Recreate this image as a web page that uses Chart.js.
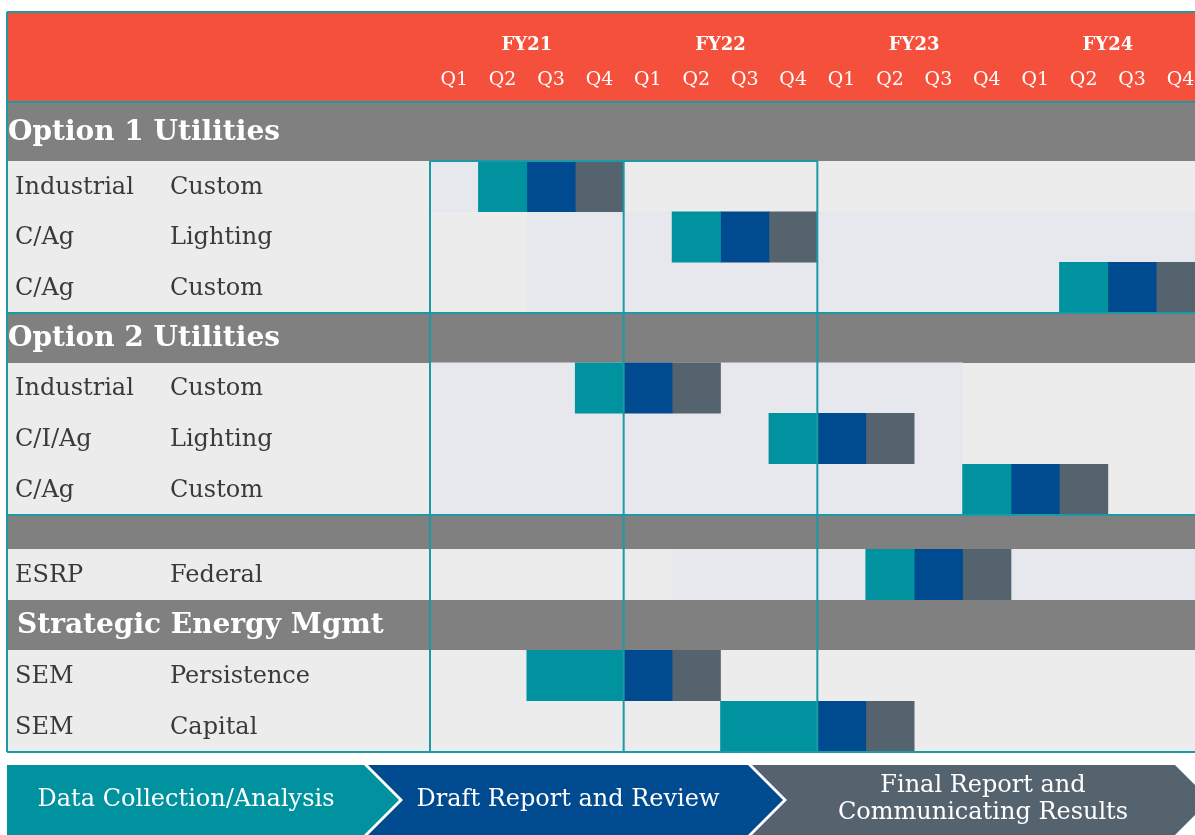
<!DOCTYPE html>
<html>
<head>
<meta charset="utf-8">
<script src="https://cdn.jsdelivr.net/npm/chart.js@4/dist/chart.umd.min.js"></script>
<style>
  html, body { margin: 0; padding: 0; background: #fff; }
  #wrap { width: 1195px; height: 835px; position: relative; }
</style>
</head>
<body>
<div id="wrap"><canvas id="ganttChart"></canvas></div>
<script>
// rows, top to bottom (section header rows have no type)
const rowSectors = ['Option 1 Utilities', 'Industrial', 'C/Ag', 'C/Ag', 'Option 2 Utilities', 'Industrial', 'C/I/Ag', 'C/Ag', '', 'ESRP', 'Strategic Energy Mgmt', 'SEM', 'SEM'];
const rowTypes = ['', 'Custom', 'Lighting', 'Custom', '', 'Custom', 'Lighting', 'Custom', '', 'Federal', '', 'Persistence', 'Capital'];
const headerRows = [true, false, false, false, true, false, false, false, true, false, true, false, false];

const fiscalYears = ['FY21', 'FY22', 'FY23', 'FY24'];
const quarters = ['Q1', 'Q2', 'Q3', 'Q4'];

// spans in quarters counted from FY21 Q1 (0) : [start, end]
const collection = [null, [1, 2], [5, 6], [13, 14], null, [3, 4], [7, 8], [11, 12], null, [9, 10], null, [2, 4], [6, 8]];
const draft = [null, [2, 3], [6, 7], [14, 15], null, [4, 5], [8, 9], [12, 13], null, [10, 11], null, [4, 5], [8, 9]];
const finalReport = [null, [3, 4], [7, 8], [15, 16], null, [5, 6], [9, 10], [13, 14], null, [11, 12], null, [5, 6], [9, 10]];
// faint shaded spans behind the bars
const shade = [null, [0, 1], [2, 16], [2, 16], null, [0, 11], [0, 11], [0, 11], null, [5, 16], null, null, null];

const phases = ['Data Collection/Analysis', 'Draft Report and Review', ['Final Report and', 'Communicating Results']];

// layout: row heights in px (header bands are not all the same height)
const rowHeights = [59, 51, 50, 51, 50, 50, 51, 51, 34, 51, 50, 51, 51];
const rowEdges = rowHeights.reduce((acc, h) => { acc.push(acc[acc.length - 1] + h); return acc; }, [0]);
const rowCenter = i => (rowEdges[i] + rowEdges[i + 1]) / 2;
const toBars = spans => spans.map((s, i) => s && { x: s, y: rowCenter(i) }).filter(Boolean);

const TEAL = '#00929f', BLUE = '#004a8f', SLATE = '#55636f', LINE = '#1b99a5';
const FONT = '"DejaVu Serif", serif';

const ganttDecor = {
  id: 'ganttDecor',
  beforeDatasetsDraw(chart) {
    const { ctx, chartArea: a, scales: { y } } = chart;
    ctx.save();
    ctx.fillStyle = '#fff';
    ctx.fillRect(0, 0, chart.width, chart.height);
    ctx.fillStyle = '#f5503b';
    ctx.fillRect(7, 12, chart.width - 7, a.top - 12);
    rowSectors.forEach((s, i) => {
      const top = y.getPixelForValue(rowEdges[i]);
      const bot = y.getPixelForValue(rowEdges[i + 1]);
      ctx.fillStyle = headerRows[i] ? '#808080' : '#ececec';
      ctx.fillRect(7, top, chart.width - 7, bot - top);
    });
    ctx.restore();
  },
  afterDatasetsDraw(chart) {
    const { ctx, chartArea: a, scales: { x, y } } = chart;
    const rowTop = i => y.getPixelForValue(rowEdges[i]);
    ctx.save();

    // header labels
    ctx.fillStyle = '#fff';
    ctx.textAlign = 'center';
    ctx.textBaseline = 'middle';
    ctx.font = 'bold 18px ' + FONT;
    fiscalYears.forEach((fy, k) => ctx.fillText(fy, x.getPixelForValue(k * 4 + 2), 45));
    ctx.font = '19px ' + FONT;
    fiscalYears.forEach((fy, k) => {
      quarters.forEach((q, j) => ctx.fillText(q, x.getPixelForValue(k * 4 + j + 0.5), 80));
    });

    // row labels
    ctx.textAlign = 'left';
    rowSectors.forEach((s, i) => {
      const cy = y.getPixelForValue(rowCenter(i));
      if (headerRows[i]) {
        ctx.fillStyle = '#fff';
        ctx.font = 'bold 28px ' + FONT;
        ctx.fillText(s, s.startsWith('Strategic') ? 17 : 8, cy + 1);
      } else {
        ctx.fillStyle = '#3a3a3a';
        ctx.font = '24px ' + FONT;
        ctx.fillText(s, 15, cy + 1);
        ctx.fillText(rowTypes[i], 170, cy + 1);
      }
    });

    // teal rules
    ctx.strokeStyle = LINE;
    ctx.lineWidth = 2;
    const hline = (yy, x0, x1) => { ctx.beginPath(); ctx.moveTo(x0, yy); ctx.lineTo(x1, yy); ctx.stroke(); };
    const vline = (xx, y0, y1) => { ctx.beginPath(); ctx.moveTo(xx, y0); ctx.lineTo(xx, y1); ctx.stroke(); };
    hline(12, 7, chart.width);
    hline(a.top, 7, chart.width);
    hline(rowTop(4), 7, chart.width);
    hline(rowTop(8), 7, chart.width);
    hline(a.bottom, 7, chart.width);
    vline(7, 12, a.bottom);
    const firstRow = rowTop(1);
    [0, 4, 8].forEach(q => vline(x.getPixelForValue(q), firstRow, a.bottom));
    hline(firstRow, x.getPixelForValue(0), x.getPixelForValue(8));

    // phase chevrons
    const top = 765, mid = 800, bot = 835, d = 35;
    const shapes = [
      { c: TEAL, l: 7, r: 364, notch: false, cx: 186 },
      { c: BLUE, l: 368, r: 748, notch: true, cx: 568 },
      { c: SLATE, l: 752, r: 1175, notch: true, cx: 983 }
    ];
    shapes.forEach((s, k) => {
      ctx.fillStyle = s.c;
      ctx.beginPath();
      ctx.moveTo(s.l, top);
      ctx.lineTo(s.r, top);
      ctx.lineTo(s.r + d, mid);
      ctx.lineTo(s.r, bot);
      ctx.lineTo(s.l, bot);
      if (s.notch) ctx.lineTo(s.l + d, mid);
      ctx.closePath();
      ctx.fill();
      ctx.fillStyle = '#fff';
      ctx.textAlign = 'center';
      ctx.font = '24px ' + FONT;
      const txt = phases[k];
      if (Array.isArray(txt)) {
        ctx.fillText(txt[0], s.cx, mid - 14);
        ctx.fillText(txt[1], s.cx, mid + 13);
      } else {
        ctx.fillText(txt, s.cx, mid);
      }
    });
    ctx.restore();
  }
};

const barDefaults = { grouped: false, barPercentage: 1, categoryPercentage: 1, borderWidth: 0 };

new Chart(document.getElementById('ganttChart'), {
  type: 'bar',
  data: {
    datasets: [
      { label: 'Data Collection/Analysis', data: toBars(collection), backgroundColor: TEAL, ...barDefaults },
      { label: 'Draft Report and Review', data: toBars(draft), backgroundColor: BLUE, ...barDefaults },
      { label: 'Final Report and Communicating Results', data: toBars(finalReport), backgroundColor: SLATE, ...barDefaults },
      { label: 'shade', data: toBars(shade), backgroundColor: '#e7e8ed', ...barDefaults }
    ]
  },
  options: {
    indexAxis: 'y',
    responsive: true,
    maintainAspectRatio: false,
    animation: false,
    layout: { padding: { left: 430, top: 102, right: 0, bottom: 83 } },
    plugins: { legend: { display: false }, tooltip: { enabled: false } },
    scales: {
      // the picture is cut off partway through FY24 Q4
      x: { type: 'linear', min: 0, max: 15.8, display: false },
      y: {
        type: 'linear', min: 0, max: rowEdges[rowEdges.length - 1], reverse: true,
        offset: false, grid: { offset: false }, display: false, ticks: { maxTicksLimit: 2 }
      }
    }
  },
  plugins: [ganttDecor]
});
</script>
</body>
</html>
